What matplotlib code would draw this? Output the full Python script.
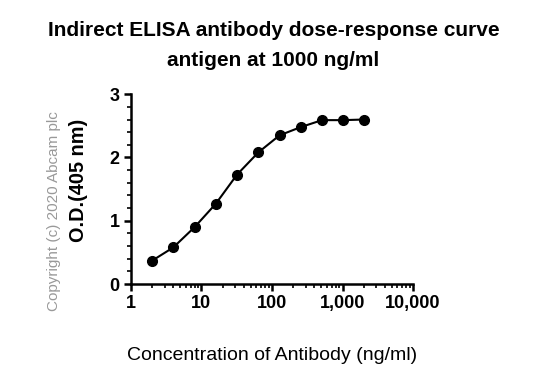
import numpy as np
import matplotlib
matplotlib.use("Agg")
import matplotlib.pyplot as plt
from matplotlib.ticker import LogLocator, FixedLocator, FuncFormatter, MultipleLocator

# antibody concentration (ng/ml) and optical density
conc = [2, 4, 8, 16, 32, 64, 128, 256, 512, 1024, 2048]
od = [0.37, 0.58, 0.90, 1.27, 1.73, 2.08, 2.35, 2.48, 2.59, 2.59, 2.60]

x_ticks = [1, 10, 100, 1000, 10000]
y_ticks = [0, 1, 2, 3]

plt.rcParams["font.family"] = ["Liberation Sans", "DejaVu Sans"]

fig = plt.figure(figsize=(5.5, 3.86), dpi=100)
ax = fig.add_axes([0.238, 0.264, 0.513, 0.492])

ax.plot(conc, od, color="black", lw=1.5, marker="o", ms=7, zorder=3, clip_on=False)

ax.set_xscale("log")
ax.set_xlim(1, 10000)
ax.set_ylim(0, 3)
ax.xaxis.set_major_locator(FixedLocator(x_ticks))
ax.xaxis.set_minor_locator(LogLocator(base=10, subs=np.arange(2, 10)))
ax.xaxis.set_major_formatter(FuncFormatter(lambda v, p: f"{int(v):,}"))
ax.yaxis.set_major_locator(FixedLocator(y_ticks))
ax.yaxis.set_minor_locator(MultipleLocator(0.2))

for s in ["top", "right"]:
    ax.spines[s].set_visible(False)
for s in ["left", "bottom"]:
    ax.spines[s].set_linewidth(1.8)

ax.tick_params(which="major", direction="out", length=5, width=1.8,
               labelsize=13, pad=3)
ax.tick_params(which="minor", direction="out", length=3, width=1.2)
for lbl in ax.get_xticklabels() + ax.get_yticklabels():
    lbl.set_fontweight("bold")

fig.text(0.495, 1 - 356 / 386, "Concentration of Antibody (ng/ml)",
         ha="center", va="center", fontsize=14)
fig.text(78 / 550, 1 - 180 / 386, "O.D.(405 nm)", rotation=90,
         ha="center", va="center", fontsize=14.3, fontweight="bold")

fig.text(0.497, 1 - 30 / 386, "Indirect ELISA antibody dose-response curve",
         ha="center", va="center", fontsize=15, fontweight="bold")
fig.text(0.497, 1 - 60 / 386, "antigen at 1000 ng/ml",
         ha="center", va="center", fontsize=15, fontweight="bold")

fig.text(54 / 550, 1 - 211 / 386, "Copyright (c) 2020 Abcam plc", rotation=90,
         ha="center", va="center", fontsize=11, color="#999999")

fig.savefig("out.png", dpi=100)
